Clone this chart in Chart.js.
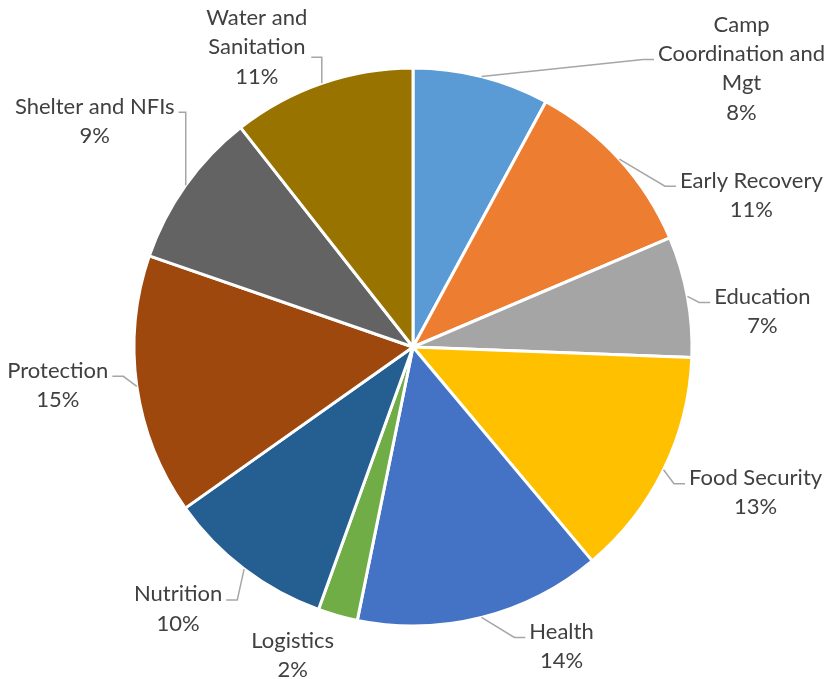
<!DOCTYPE html>
<html>
<head>
<meta charset="utf-8">
<script src="https://cdn.jsdelivr.net/npm/chart.js@4.4.1/dist/chart.umd.min.js"></script>
<style>
  html, body { margin: 0; padding: 0; background: #ffffff; }
  #wrap { position: relative; width: 831px; height: 679px; }
</style>
</head>
<body>
<div id="wrap"><canvas id="pieChart"></canvas></div>
<script>
// Slices, clockwise from 12 o'clock
const categories = [
  "Camp Coordination and Mgt", "Early Recovery", "Education", "Food Security", "Health",
  "Logistics", "Nutrition", "Protection", "Shelter and NFIs", "Water and Sanitation"
];
// how each category name wraps on the chart
const labelLines = [
  ["Camp", "Coordination and", "Mgt"], ["Early Recovery"], ["Education"], ["Food Security"], ["Health"],
  ["Logistics"], ["Nutrition"], ["Protection"], ["Shelter and NFIs"], ["Water and", "Sanitation"]
];
const shares = [7.9, 10.7, 7.0, 13.3, 14.3, 2.3, 9.7, 15.1, 9.1, 10.6];
const sliceColors = [
  "#5B9BD5", "#ED7D31", "#A5A5A5", "#FFC000", "#4472C4",
  "#70AD47", "#255E91", "#9E480E", "#636363", "#997300"
];

// label block centre relative to the slice's outer mid point (px)
const labelOffsets = [
  [260, -10], [132, 34], [75, 13], [92, 21], [80, 27],
  [-45, 38], [-66, 38], [-79, -3], [-91, -66], [-65, -38]
];
const leaderAttachDy = { 9: 12 };   // default -7
const noLeader = [5];

const FONT = '22px Lato';
const LINE_H = 29.3;

const outsideLabels = {
  id: "outsideLabels",
  afterDatasetsDraw(chart) {
    const ctx = chart.ctx;
    const meta = chart.getDatasetMeta(0);
    const total = shares.reduce((a, b) => a + b, 0);
    ctx.save();
    ctx.font = FONT;
    ctx.textAlign = "center";
    ctx.textBaseline = "middle";
    meta.data.forEach((arc, i) => {
      const p = arc.getProps(["x", "y", "startAngle", "endAngle", "outerRadius"], true);
      const mid = (p.startAngle + p.endAngle) / 2;
      const ax = p.x + Math.cos(mid) * p.outerRadius;
      const ay = p.y + Math.sin(mid) * p.outerRadius;
      const cx = ax + labelOffsets[i][0];
      const cy = ay + labelOffsets[i][1];
      const lines = labelLines[i].concat([Math.round(shares[i] / total * 100) + "%"]);
      const w = Math.max(...lines.map(l => ctx.measureText(l).width));

      if (!noLeader.includes(i)) {
        const right = cx > ax;
        const ex = right ? cx - w / 2 - 4 : cx + w / 2 + 4;
        const ey = cy + (leaderAttachDy[i] !== undefined ? leaderAttachDy[i] : -7);
        const len = Math.min(11, Math.abs(ax - ex));
        const bx = right ? ex - len : ex + len;
        ctx.beginPath();
        ctx.moveTo(ax, ay);
        ctx.lineTo(bx, ey);
        ctx.lineTo(ex, ey);
        ctx.strokeStyle = "#A6A6A6";
        ctx.lineWidth = 1.5;
        ctx.stroke();
      }

      ctx.fillStyle = "#404040";
      lines.forEach((l, k) => {
        ctx.fillText(l, cx, cy + 2 + (k - (lines.length - 1) / 2) * LINE_H);
      });
    });
    ctx.restore();
  }
};

new Chart(document.getElementById("pieChart"), {
  type: "pie",
  data: {
    labels: categories,
    datasets: [{
      data: shares,
      backgroundColor: sliceColors,
      borderColor: "#ffffff",
      borderWidth: 3,
      radius: 279
    }]
  },
  options: {
    responsive: true,
    maintainAspectRatio: false,
    animation: false,
    events: [],
    layout: { padding: { left: 133, right: 138, top: 67, bottom: 52 } },
    plugins: {
      legend: { display: false },
      tooltip: { enabled: false }
    }
  },
  plugins: [outsideLabels]
});
</script>
</body>
</html>
